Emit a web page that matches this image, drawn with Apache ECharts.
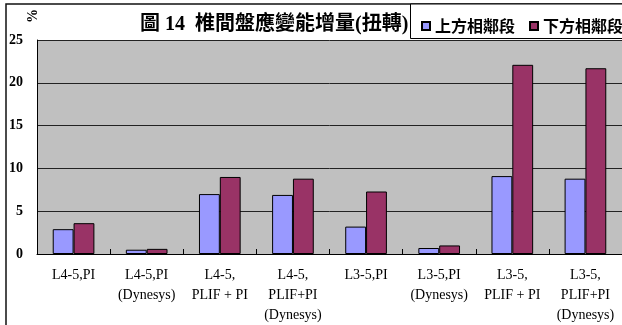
<!DOCTYPE html>
<html>
<head>
<meta charset="utf-8">
<script src="https://cdn.jsdelivr.net/npm/echarts@6/dist/echarts.min.js"></script>
<style>
  html, body { margin: 0; padding: 0; background: #fff; }
  #chart { width: 622px; height: 325px; }
</style>
</head>
<body>
<div id="chart"></div>
<script>
// Strain energy increase of the intervertebral disc under torsion (%)
const categories = [
  'L4-5,PI',
  'L4-5,PI\n(Dynesys)',
  'L4-5,\nPLIF + PI',
  'L4-5,\nPLIF+PI\n(Dynesys)',
  'L3-5,PI',
  'L3-5,PI\n(Dynesys)',
  'L3-5,\nPLIF + PI',
  'L3-5,\nPLIF+PI\n(Dynesys)'
];
const seriesNames = ['上方相鄰段', '下方相鄰段'];
const upperSegment = [2.9, 0.5, 7.0, 6.9, 3.2, 0.7, 9.1, 8.8];
const lowerSegment = [3.6, 0.6, 9.0, 8.8, 7.3, 1.0, 22.1, 21.7];
const yTicks = [0, 5, 10, 15, 20, 25];
const titleText = '圖 14  椎間盤應變能增量(扭轉)';
const unitText = '%';

const serif = "'Liberation Serif', 'Times New Roman', serif";
const cjk = "'Liberation Serif', 'Noto Sans CJK TC', sans-serif";

const chart = echarts.init(document.getElementById('chart'), null, { renderer: 'canvas' });

chart.setOption({
  animation: false,
  backgroundColor: '#ffffff',
  title: {
    text: titleText,
    left: 135,
    top: 10,
    textStyle: { fontFamily: cjk, fontSize: 20, fontWeight: 'bold', color: '#000' }
  },
  legend: {
    data: seriesNames,
    orient: 'horizontal',
    left: 416,
    top: 13,
    width: 300,
    itemWidth: 8,
    itemHeight: 8,
    itemGap: 14,
    icon: 'rect',
    textStyle: { fontFamily: "'Noto Sans CJK TC', sans-serif", fontSize: 16, fontWeight: 'bold', color: '#000' }
  },
  grid: { left: 37, top: 40, width: 590, height: 216, containLabel: false },
  xAxis: {
    type: 'category',
    data: categories,
    boundaryGap: true,
    axisLine: { show: true, lineStyle: { color: '#000', width: 1 } },
    axisTick: { show: true, inside: true, length: 5, lineStyle: { color: '#000' } },
    axisLabel: {
      interval: 0,
      margin: 11,
      fontFamily: serif,
      fontSize: 14,
      lineHeight: 20,
      color: '#000'
    },
    splitLine: { show: false }
  },
  yAxis: {
    type: 'value',
    min: yTicks[0],
    max: yTicks[yTicks.length - 1],
    interval: 5,
    axisLine: { show: true, lineStyle: { color: '#000', width: 1 } },
    axisTick: { show: false },
    axisLabel: {
      margin: 14,
      fontFamily: serif,
      fontSize: 14,
      fontWeight: 'bold',
      color: '#000'
    },
    splitLine: { show: true, lineStyle: { color: '#222', width: 1 } },
    splitArea: { show: true, areaStyle: { color: ['#c0c0c0'] } }
  },
  graphic: [
    {
      type: 'rect',
      z: -1,
      silent: true,
      shape: { x: 6, y: 4, width: 700, height: 400 },
      style: { fill: 'none', stroke: '#111', lineWidth: 1.5 }
    },
    {
      type: 'rect',
      z: -1,
      silent: true,
      shape: { x: 410.5, y: 4, width: 240, height: 34.5 },
      style: { fill: '#fff', stroke: '#000', lineWidth: 1 }
    },
    {
      type: 'text',
      x: 33,
      y: 16,
      rotation: Math.PI / 2,
      silent: true,
      style: {
        text: unitText,
        fontFamily: serif,
        fontSize: 14,
        fontWeight: 'bold',
        fill: '#000',
        align: 'center',
        verticalAlign: 'middle'
      }
    }
  ],
  series: [
    {
      name: seriesNames[0],
      type: 'bar',
      data: upperSegment,
      barGap: '0%',
      barCategoryGap: '43%',
      itemStyle: { color: '#9999ff', borderColor: '#000', borderWidth: 1 }
    },
    {
      name: seriesNames[1],
      type: 'bar',
      data: lowerSegment,
      barGap: '0%',
      barCategoryGap: '43%',
      itemStyle: { color: '#993366', borderColor: '#000', borderWidth: 1 }
    }
  ]
});
</script>
</body>
</html>
